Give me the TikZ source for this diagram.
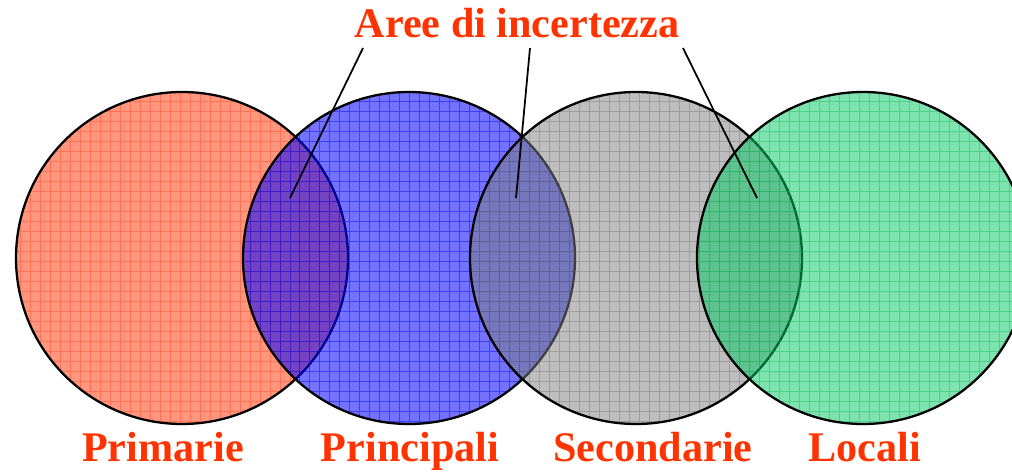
\documentclass[tikz,border=0pt]{standalone}
\usepackage{fontspec}
\setmainfont{Liberation Serif}

\definecolor{titlered}{RGB}{255,51,0}
\definecolor{primfill}{RGB}{255,150,125}
\definecolor{primgrid}{RGB}{255,90,60}
\definecolor{princfill}{RGB}{0,0,255}
\definecolor{princgrid}{RGB}{0,0,230}
\definecolor{secfill}{RGB}{125,125,125}
\definecolor{secgrid}{RGB}{95,95,95}
\definecolor{locfill}{RGB}{0,200,95}
\definecolor{locgrid}{RGB}{0,185,80}

\tikzset{
  ring/.style={draw=black,line width=1.3pt},
  lbl/.style={text=titlered,anchor=base,font=\bfseries\fontsize{24}{28}\selectfont},
  leader/.style={draw=black,line width=1pt}
}

\begin{document}
\begin{tikzpicture}[x=0.02cm,y=0.02cm]
        \useasboundingbox (0,0) rectangle (1012,471);
        \clip (0,0) rectangle (1012,471);
        % the four sets, each one laid over the one before
        \foreach \cx/\fc/\gc/\op/\gop in {182/primfill/primgrid/1/0.6,409/princfill/princgrid/0.55/0.45,
                                     636/secfill/secgrid/0.5/0.35,863/locfill/locgrid/0.5/0.4} {
          \fill[\fc,fill opacity=\op] (\cx,213) circle (166);
          \begin{scope}
            \clip (\cx,213) circle (166);
            \draw[\gc,opacity=\gop,line width=0.5pt,step=0.2cm] (\cx-170,40) grid (\cx+170,390);
          \end{scope}
          \draw[ring] (\cx,213) circle (166);
        }
        \node[lbl] (title) at (517,434) {Aree di incertezza};
        \node[lbl] (primarie) at (163,10) {Primarie};
        \node[lbl] (principali) at (410,10) {Principali};
        \node[lbl] (secondarie) at (653,10) {Secondarie};
        \node[lbl] (locali) at (865,10) {Locali};
        % leaders to the overlaps
        \coordinate (s1) at (363,423);
        \coordinate (s2) at (530,423);
        \coordinate (s3) at (683,423);
        \coordinate (e1) at (290,273);
        \coordinate (e2) at (516,273);
        \coordinate (e3) at (757,273);
        \foreach \i in {1,2,3} {
          \draw[leader] (s\i) -- (e\i);
        }
      \end{tikzpicture}
\end{document}
